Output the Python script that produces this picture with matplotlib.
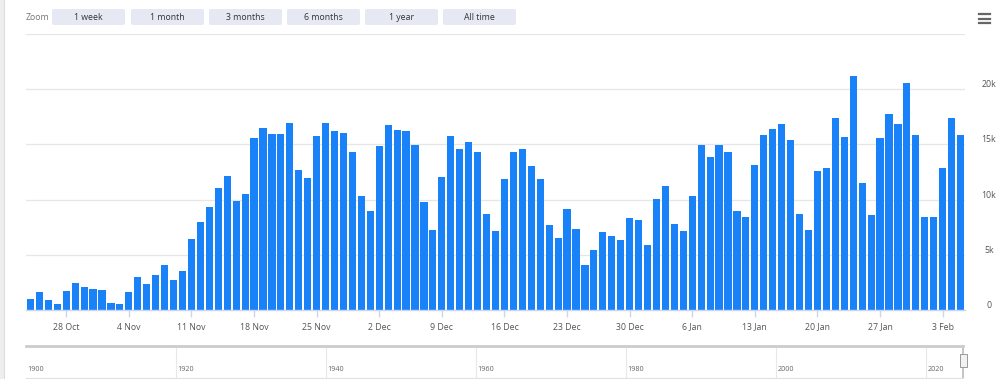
import matplotlib
matplotlib.use("Agg")
import matplotlib.pyplot as plt
import matplotlib.dates as mdates
from matplotlib.patches import FancyBboxPatch, Rectangle
import pandas as pd

plt.rcParams['font.family'] = ['Open Sans', 'DejaVu Sans']

# ---- data ----
start_date = "2019-10-24"
end_date = "2020-02-05"
values = [
    1030, 1670, 910, 580, 1760, 2450, 2120, 1940, 1850, 640, 520,          # 24 Oct - 3 Nov
    1600, 3030, 2390, 3210, 4060, 2730, 3550,                               # 4 - 10 Nov
    6390, 7970, 9330, 11030, 12120, 9910, 10480,                            # 11 - 17 Nov
    15550, 16520, 15940, 15940, 16910, 12700, 12000,                        # 18 - 24 Nov
    15730, 16910, 16180, 16060, 14300, 10330, 8940,                         # 25 Nov - 1 Dec
    14820, 16730, 16270, 16180, 14940, 9760, 7270,                          # 2 - 8 Dec
    12030, 15730, 14600, 15180, 14300, 8670, 7150,                          # 9 - 15 Dec
    11850, 14300, 14580, 13000, 11910, 7730, 6520,                          # 16 - 22 Dec
    9180, 7360, 4060, 5480, 7030, 6670, 6330,                               # 23 - 29 Dec
    8330, 8150, 5880, 10030, 11270, 7820, 7120,                             # 30 Dec - 5 Jan
    10360, 14940, 13880, 14940, 14300, 8940, 8390,                          # 6 - 12 Jan
    13090, 15850, 16420, 16850, 15420, 8730, 7240,                          # 13 - 19 Jan
    12580, 12820, 17420, 15670, 21210, 11520, 8610,                         # 20 - 26 Jan
    15550, 17760, 16850, 20550, 15820, 8390, 8390,                          # 27 Jan - 2 Feb
    12880, 17360, 15850,                                                    # 3 - 5 Feb
]
ytick_values = [0, 5000, 10000, 15000, 20000]
ytick_labels = ["0", "5k", "10k", "15k", "20k"]
zoom_buttons = ["1 week", "1 month", "3 months", "6 months", "1 year", "All time"]
nav_years = [1900, 1920, 1940, 1960, 1980, 2000, 2020]

dates = pd.date_range(start_date, end_date, freq="D")
xnum = mdates.date2num(dates.to_pydatetime())

W, H = 1000, 379
fig = plt.figure(figsize=(W / 100, H / 100), dpi=100)
fig.patch.set_facecolor("white")

def fx(px):
    return px / W

def fy(py):
    return 1 - py / H

# ---- main axes ----
L, R, T, B = 26, 965, 34, 310
ax = fig.add_axes([fx(L), fy(B), fx(R - L), (B - T) / H])
ax.bar(xnum, values, width=0.8, color="#1a82f9", zorder=3, linewidth=0)
ax.set_xlim(xnum[0] - 0.5, xnum[-1] + 0.5)
ax.set_ylim(0, 25000)
for s in ["top", "left", "right"]:
    ax.spines[s].set_visible(False)
ax.spines["bottom"].set_color("#ccd6eb")
ax.spines["bottom"].set_linewidth(1)
ax.spines["bottom"].set_zorder(4)
for g in [5000, 10000, 15000, 20000, 25000]:
    ax.axhline(g, color="#e6e6e6", lw=0.9, zorder=1)

ax.xaxis.set_major_locator(mdates.WeekdayLocator(byweekday=mdates.MO))
ax.xaxis.set_major_formatter(mdates.DateFormatter("%-d %b"))
ax.tick_params(axis="x", colors="#ccd6eb", length=5, width=1, labelsize=6.3,
               labelcolor="#555555", pad=4)
ax.set_yticks([])
ax.tick_params(axis="y", length=0)
for v, lab in zip(ytick_values, ytick_labels):
    ax.text(1.0 + 24 / (R - L), v, lab, transform=ax.get_yaxis_transform(),
            ha="center", va="bottom", fontsize=6.3, color="#555555")

# ---- zoom buttons ----
fig.text(fx(26), fy(17), "Zoom", fontsize=6.3, color="#777777", va="center", ha="left")
btn_x = [52, 131, 209, 287, 365, 443]
for bx, lab in zip(btn_x, zoom_buttons):
    p = FancyBboxPatch((fx(bx), fy(25)), fx(73), (25 - 9) / H,
                       boxstyle="round,pad=0,rounding_size=0.003",
                       transform=fig.transFigure, facecolor="#e6e9f4",
                       edgecolor="none", zorder=2)
    fig.patches.append(p)
    fig.text(fx(bx + 36.5), fy(17), lab, fontsize=6.3, color="#333333",
             ha="center", va="center")

# hamburger
for yy in [14, 18.5, 23]:
    fig.add_artist(plt.Line2D([fx(979), fx(990)], [fy(yy), fy(yy)],
                              transform=fig.transFigure, color="#666666", lw=1.6))

# left page border
fig.patches.append(Rectangle((0, 0), fx(4), 1, transform=fig.transFigure,
                             facecolor="#eeeeee", edgecolor="none"))
fig.add_artist(plt.Line2D([fx(4), fx(4)], [0, 1], transform=fig.transFigure,
                          color="#dddddd", lw=0.8))

# ---- navigator ----
NL, NR, NT, NB = 26, 963, 346, 378
nav = fig.add_axes([fx(NL), fy(NB), fx(NR - NL), (NB - NT) / H])
nav.set_xlim(1900, 1900 + (NR - NL) / 7.5)
nav.set_ylim(0, 1)
for s in ["left", "right"]:
    nav.spines[s].set_visible(False)
nav.spines["top"].set_color("#cccccc")
nav.spines["top"].set_linewidth(2)
nav.spines["bottom"].set_color("#e0e0e0")
nav.spines["bottom"].set_linewidth(0.8)
nav.set_xticks([])
nav.set_yticks([])
for yr in nav_years:
    if yr > 1900:
        nav.axvline(yr, color="#e8e8e8", lw=0.8)
    nav.text(yr + 0.2, 0.28, str(yr), fontsize=5.2, color="#666666",
             ha="left", va="center")
xr = nav.get_xlim()[1]
nav.axvline(xr, color="#bbbbbb", lw=1.2, clip_on=False)
fig.patches.append(Rectangle((fx(959.5), fy(367)), fx(7), (367 - 354) / H,
                             transform=fig.transFigure, facecolor="#f2f2f2",
                             edgecolor="#999999", lw=0.7, zorder=5))

fig.savefig("out.png", dpi=100, facecolor="white")
